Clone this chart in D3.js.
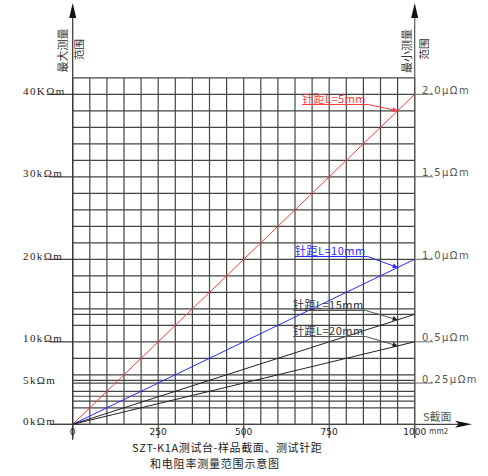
<!DOCTYPE html>
<html>
<head>
<meta charset="utf-8">
<script src="https://cdn.jsdelivr.net/npm/d3@7"></script>
<style>
  body { margin: 0; background: #fff; }
  text { font-family: "Noto Sans CJK SC", "DejaVu Sans", sans-serif; }
</style>
</head>
<body>
<svg id="chart"></svg>
<script>
var w = 488;
var h = 476;

// cross-section S (mm2) range and max resistance (kΩm) reached at S=1000 for each needle spacing
var sDomain = [0, 1000];
var spacings = ['5', '10', '15', '20'];
var rAt1000 = [40, 20, 13.33, 10];
var lineColors = ['#ff3b3b', '#2b2bff', '#222', '#222'];

var xTicks = [0, 250, 500, 750, 1000];
var leftTicks = [0, 5, 10, 20, 30, 40];
var leftLabels = ['0kΩm', '5kΩm', '10kΩm', '20kΩm', '30kΩm', '40KΩm'];
var rightTicks = [0.25, 0.5, 1.0, 1.5, 2.0];
var rightLabels = ['0.25μΩm', '0.5μΩm', '1.0μΩm', '1.5μΩm', '2.0μΩm'];
var extraRows = [13.33, 5.33, 5, 3.4, 2.8];

// where the note for each line sits (text start, baseline) and at which S its arrow hits
var notePos = [[302, 103], [295, 255], [293, 309], [293, 335]];
var noteAt = 950;

var svg = d3.select('#chart').attr('width', w).attr('height', h);

var x = d3.scaleLinear().domain(sDomain).range([72.7, 414.7]);
var y = d3.scaleLinear().domain([0, 42]).range([424.3, 77.8]);
var yr = d3.scaleLinear().domain([0, 2.1]).range([424.3, 77.8]);

// markers
var defs = svg.append('defs');
lineColors.forEach(function (c, i) {
  defs.append('marker')
    .attr('id', 'arr' + i)
    .attr('viewBox', '0 0 10 10')
    .attr('refX', 10).attr('refY', 5)
    .attr('markerWidth', 8).attr('markerHeight', 5)
    .attr('markerUnits', 'userSpaceOnUse')
    .attr('orient', 'auto')
    .append('path')
    .attr('d', 'M0,0L10,5L0,10Z')
    .attr('fill', c);
});

// grid
var grid = svg.append('g').attr('stroke', '#444').attr('stroke-width', 1.2);
grid.selectAll('line.v')
  .data(d3.range(0, 1001, 50))
  .enter().append('line')
  .attr('class', 'v')
  .attr('x1', function (d) { return x(d); })
  .attr('x2', function (d) { return x(d); })
  .attr('y1', y(42))
  .attr('y2', function (d) { return xTicks.indexOf(d) >= 0 ? 438 : y(0); });

grid.selectAll('line.h')
  .data(d3.range(0, 43, 2).concat(extraRows))
  .enter().append('line')
  .attr('class', 'h')
  .attr('x1', function (d) { return d % 10 === 0 ? 50 : x(0); })
  .attr('x2', x(1000))
  .attr('y1', function (d) { return y(d); })
  .attr('y2', function (d) { return y(d); });

// right tick marks
svg.selectAll('line.rt')
  .data(rightTicks)
  .enter().append('line')
  .attr('class', 'rt')
  .attr('x1', x(1000)).attr('x2', 433)
  .attr('y1', function (d) { return yr(d); })
  .attr('y2', function (d) { return yr(d); })
  .attr('stroke', '#666');

// axes
svg.append('line').attr('x1', x(0)).attr('x2', x(0)).attr('y1', 16).attr('y2', 440)
  .attr('stroke', '#333').attr('stroke-width', 1.2);
svg.append('line').attr('x1', x(1000)).attr('x2', x(1000)).attr('y1', 16).attr('y2', 438)
  .attr('stroke', '#555').attr('stroke-width', 1.2);
svg.append('line').attr('x1', 55).attr('x2', 460).attr('y1', y(0)).attr('y2', y(0))
  .attr('stroke', '#444').attr('stroke-width', 1.2);

svg.append('path')
  .attr('d', 'M' + (x(0) - 3.5) + ',18L' + x(0) + ',3L' + (x(0) + 3.5) + ',18Z')
  .attr('fill', '#111');
svg.append('path')
  .attr('d', 'M' + (x(1000) - 3.5) + ',18L' + x(1000) + ',3L' + (x(1000) + 3.5) + ',18Z')
  .attr('fill', '#111');
svg.append('path')
  .attr('d', 'M455,' + (y(0) - 3.5) + 'L472,' + y(0) + 'L455,' + (y(0) + 3.5) + 'L459,' + y(0) + 'Z')
  .attr('fill', '#111');

// data lines
svg.selectAll('line.data')
  .data(rAt1000)
  .enter().append('line')
  .attr('class', 'data')
  .attr('x1', x(0)).attr('y1', y(0))
  .attr('x2', x(1000))
  .attr('y2', function (d) { return y(d); })
  .attr('stroke', function (d, i) { return lineColors[i]; })
  .attr('stroke-width', 1);

// notes with leaders
var notes = svg.selectAll('g.note')
  .data(spacings)
  .enter().append('g')
  .attr('class', 'note');

notes.append('text')
  .attr('x', function (d, i) { return notePos[i][0]; })
  .attr('y', function (d, i) { return notePos[i][1]; })
  .attr('font-size', 11)
  .attr('letter-spacing', 0.5)
  .attr('fill', function (d, i) { return i < 2 ? lineColors[i] : '#333'; })
  .text(function (d) { return '针距L=' + d + 'mm'; })
  .each(function (d, i) {
    var bb = this.getBBox();
    var x0 = notePos[i][0], yb = notePos[i][1] + 1.5, x1 = x0 + bb.width + 2;
    var tx = x(noteAt), ty = y(rAt1000[i] * noteAt / 1000);
    d3.select(this.parentNode).append('path')
      .attr('d', 'M' + x0 + ',' + yb + 'L' + x1 + ',' + yb + 'L' + tx + ',' + ty)
      .attr('fill', 'none')
      .attr('stroke', i < 2 ? lineColors[i] : '#555')
      .attr('stroke-width', 1)
      .attr('marker-end', 'url(#arr' + i + ')');
  });

// left labels
svg.selectAll('text.lt')
  .data(leftTicks)
  .enter().append('text')
  .attr('class', 'lt')
  .attr('x', 23)
  .attr('y', function (d) { return y(d) + 0.5; })
  .attr('font-size', 11)
  .attr('letter-spacing', 1.4)
  .style('font-family', '"Liberation Serif", serif')
  .attr('fill', '#222')
  .text(function (d, i) { return leftLabels[i]; });

// right labels
svg.selectAll('text.rl')
  .data(rightTicks)
  .enter().append('text')
  .attr('class', 'rl')
  .attr('x', 422)
  .attr('y', function (d) { return yr(d) - 0.5; })
  .attr('font-size', 10)
  .attr('letter-spacing', 1.4)
  .style('font-family', '"DejaVu Sans", sans-serif')
  .attr('fill', '#555')
  .text(function (d, i) { return rightLabels[i]; });

// x tick labels
svg.selectAll('text.xt')
  .data(xTicks)
  .enter().append('text')
  .attr('class', 'xt')
  .attr('x', function (d) { return x(d); })
  .attr('y', 435)
  .attr('text-anchor', 'middle')
  .attr('font-size', 9)
  .style('font-family', '"DejaVu Sans", sans-serif')
  .attr('fill', '#222')
  .text(function (d) { return d; });

// axis titles
function vtext(cx, cy, s, size) {
  svg.append('text')
    .attr('transform', 'translate(' + cx + ',' + cy + ') rotate(-90)')
    .attr('text-anchor', 'middle')
    .attr('dy', '0.35em')
    .attr('font-size', size)
    .attr('fill', '#333')
    .text(s);
}
vtext(63, 50.5, '最大测量', 11);
vtext(79, 49.5, '范围', 10.5);
vtext(407.5, 51, '最小测量', 11);
vtext(424, 49, '范围', 10.5);

svg.append('text').attr('x', 423).attr('y', 421).attr('font-size', 11)
  .attr('fill', '#555').text('S截面');
svg.append('text').attr('x', 429).attr('y', 434).attr('font-size', 8)
  .attr('fill', '#444').text('mm2');

// caption
svg.append('text').attr('x', 132).attr('y', 452).attr('font-size', 11)
  .attr('letter-spacing', 0.6)
  .attr('fill', '#222').text('SZT-K1A测试台-样品截面、测试针距');
svg.append('text').attr('x', 150).attr('y', 468).attr('font-size', 11)
  .attr('letter-spacing', 0.8)
  .attr('fill', '#222').text('和电阻率测量范围示意图');
</script>
</body>
</html>
